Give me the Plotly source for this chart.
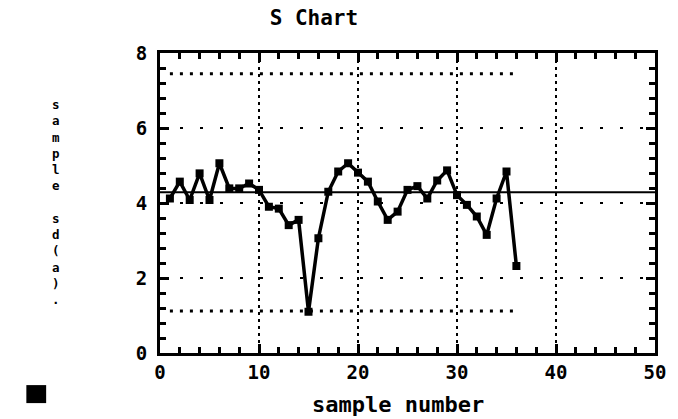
import plotly.graph_objects as go

# Sample standard deviations, samples 1..36
samples = list(range(1, 37))
sample_sd = [4.12, 4.57, 4.08, 4.79, 4.08, 5.06, 4.39, 4.39, 4.52, 4.35,
             3.90, 3.85, 3.41, 3.55, 1.10, 3.06, 4.30, 4.84, 5.06, 4.81,
             4.57, 4.04, 3.55, 3.77, 4.35, 4.45, 4.12, 4.60, 4.87, 4.21,
             3.95, 3.64, 3.15, 4.12, 4.84, 2.32]

# Control limits
center_line = 4.29
ucl = 7.45
lcl = 1.12
limit_span = [1, 36]
center_span = [0, 50]

x_range, x_major, x_minor = [0, 50], 10, 2
y_range, y_major, y_minor = [0, 8], 2, 0.4

FONT = "DejaVu Sans Mono"

fig = go.Figure()

# centre line across the full width
fig.add_trace(go.Scatter(x=center_span, y=[center_line, center_line], mode="lines",
                         line=dict(color="black", width=2), hoverinfo="skip"))
# upper / lower control limits
for lim in (ucl, lcl):
    fig.add_trace(go.Scatter(x=limit_span, y=[lim, lim], mode="lines",
                             line=dict(color="black", width=3, dash="3px,7px"),
                             hoverinfo="skip"))
# sample sd series
fig.add_trace(go.Scatter(x=samples, y=sample_sd, mode="lines+markers",
                         line=dict(color="black", width=3.5),
                         marker=dict(symbol="square", size=8, color="black")))

axis_common = dict(
    showline=True, linecolor="black", linewidth=3, mirror="allticks",
    tickmode="linear", tick0=0,
    ticks="inside", ticklen=9, tickwidth=3, tickcolor="black",
    showgrid=True, gridcolor="black", gridwidth=2,
    zeroline=False,
    tickfont=dict(family=FONT, size=19, color="black", weight="bold"),
)

minor_common = dict(ticks="inside", ticklen=6, tickwidth=2.5, tickcolor="black",
                    tick0=0, showgrid=False)

fig.update_layout(
    width=678, height=419,
    margin=dict(l=160, r=18, t=53, b=66),
    paper_bgcolor="white", plot_bgcolor="white",
    showlegend=False,
    title=dict(text="S Chart", x=0.463, xanchor="center", y=0.957, yanchor="middle",
               font=dict(family=FONT, size=21, color="black", weight="bold")),
    xaxis=dict(range=x_range, dtick=x_major, griddash="3px,4px",
               minor=dict(dtick=x_minor, **minor_common),
               **axis_common),
    yaxis=dict(range=y_range, dtick=y_major, griddash="3px,17px",
               ticklabelstandoff=6,
               minor=dict(dtick=y_minor, **minor_common),
               **axis_common),
)

# x-axis title
fig.add_annotation(text="sample number", xref="paper", yref="paper",
                   x=0.48, y=-0.173, xanchor="center", yanchor="middle",
                   showarrow=False,
                   font=dict(family=FONT, size=22, color="black", weight="bold"))

# stacked y-axis title
ylabel = "sample sd(a)."
fig.add_annotation(text="<br>".join(ch if ch != " " else "&nbsp;" for ch in ylabel),
                   xref="paper", yref="paper", x=-0.21, y=0.86,
                   xanchor="center", yanchor="top", showarrow=False, align="center",
                   font=dict(family=FONT, size=12.5, color="black", weight="bold"))

# legend key square
fig.add_shape(type="rect", xref="paper", yref="paper",
              x0=-0.27, x1=-0.23, y0=-0.167, y1=-0.107,
              fillcolor="black", line=dict(width=0))

fig.write_html("out.html")
